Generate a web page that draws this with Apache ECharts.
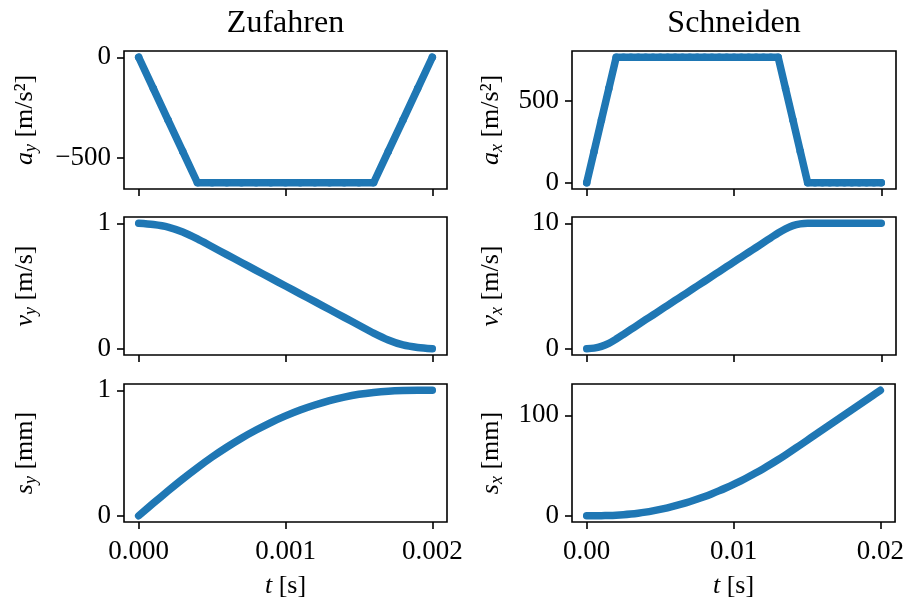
<!DOCTYPE html>
<html>
<head>
<meta charset="utf-8">
<script src="https://cdn.jsdelivr.net/npm/echarts@6/dist/echarts.min.js"></script>
<style>
html, body { margin: 0; padding: 0; background: #fff; }
#main { width: 907px; height: 604px; }
</style>
</head>
<body>
<div id="main"></div>
<script>
// Zufahren (links), Zeit in s
var tY = [0, 0.0001, 0.0002, 0.0003, 0.0004, 0.0005, 0.0006, 0.0007, 0.0008, 0.0009, 0.001,
          0.0011, 0.0012, 0.0013, 0.0014, 0.0015, 0.0016, 0.0017, 0.0018, 0.0019, 0.002];
var aY = [0, -156, -313, -469, -625, -625, -625, -625, -625, -625, -625,
          -625, -625, -625, -625, -625, -625, -469, -313, -156, 0];
var vY = [1, 0.99, 0.97, 0.93, 0.875, 0.8125, 0.75, 0.6875, 0.625, 0.5625, 0.5,
          0.4375, 0.375, 0.3125, 0.25, 0.1875, 0.125, 0.07, 0.03, 0.01, 0];
var sY = [0, 0.100, 0.198, 0.293, 0.383, 0.468, 0.546, 0.618, 0.683, 0.743, 0.796,
          0.843, 0.883, 0.918, 0.946, 0.968, 0.983, 0.993, 0.998, 1.000, 1.000];

// Schneiden (rechts), Zeit in s
var tX = [0, 0.0005, 0.001, 0.0015, 0.002, 0.0025, 0.003, 0.0035, 0.004, 0.0045, 0.005,
          0.0055, 0.006, 0.0065, 0.007, 0.0075, 0.008, 0.0085, 0.009, 0.0095, 0.01,
          0.0105, 0.011, 0.0115, 0.012, 0.0125, 0.013, 0.0135, 0.014, 0.0145, 0.015,
          0.0155, 0.016, 0.0165, 0.017, 0.0175, 0.018, 0.0185, 0.019, 0.0195, 0.02];
var aX = [0, 192, 385, 577, 769, 769, 769, 769, 769, 769, 769,
          769, 769, 769, 769, 769, 769, 769, 769, 769, 769,
          769, 769, 769, 769, 769, 769, 577, 385, 192, 0,
          0, 0, 0, 0, 0, 0, 0, 0, 0, 0];
var vX = [0, 0.05, 0.19, 0.43, 0.77, 1.15, 1.54, 1.92, 2.31, 2.69, 3.08,
          3.46, 3.85, 4.23, 4.61, 5.00, 5.38, 5.77, 6.15, 6.54, 6.92,
          7.31, 7.69, 8.07, 8.46, 8.84, 9.23, 9.56, 9.81, 9.95, 10,
          10, 10, 10, 10, 10, 10, 10, 10, 10, 10];
var sX = [0, 0.01, 0.06, 0.22, 0.51, 0.99, 1.67, 2.53, 3.59, 4.84, 6.28,
          7.91, 9.74, 11.76, 13.97, 16.37, 18.97, 21.76, 24.74, 27.91, 31.27,
          34.83, 38.58, 42.52, 46.65, 50.98, 55.50, 60.21, 65.04, 69.99, 74.98,
          79.98, 84.98, 89.98, 94.98, 99.98, 104.98, 109.98, 114.98, 119.98, 124.98];

// Achsenticks
var ticksTY = [0, 0.001, 0.002];
var ticksTX = [0, 0.01, 0.02];
var ticksAY = [-500, 0];
var ticksAX = [0, 500];
var ticksV1 = [0, 1];
var ticksV10 = [0, 10];
var ticksS1 = [0, 1];
var ticksS100 = [0, 100];

var titles = ['Zufahren', 'Schneiden'];

var FONT = 'Liberation Serif';
var BLUE = '#1f77b4';

// layout
var colLeft = [124, 572];
var colWidth = [323, 324];
var rowTop = [51, 217, 384];
var rowHeight = 138;
var nameGap = [84, 66];

function fmtNum(v) {
    return v < 0 ? '\u2212' + Math.abs(v) : String(v);
}

var panels = [
    { col: 0, row: 0, t: tY, v: aY, xr: [-0.0001, 0.0021], yr: [-656.25, 31.25], yt: ticksAY, xt: ticksTY, dec: 3, name: '{i|a}{s|y} [m/s\u00b2]' },
    { col: 0, row: 1, t: tY, v: vY, xr: [-0.0001, 0.0021], yr: [-0.05, 1.05], yt: ticksV1, xt: ticksTY, dec: 3, name: '{i|v}{s|y} [m/s]', smooth: true },
    { col: 0, row: 2, t: tY, v: sY, xr: [-0.0001, 0.0021], yr: [-0.05, 1.05], yt: ticksS1, xt: ticksTY, dec: 3, name: '{i|s}{s|y} [mm]', smooth: true },
    { col: 1, row: 0, t: tX, v: aX, xr: [-0.001, 0.021], yr: [-38.45, 807.45], yt: ticksAX, xt: ticksTX, dec: 2, name: '{i|a}{s|x} [m/s\u00b2]' },
    { col: 1, row: 1, t: tX, v: vX, xr: [-0.001, 0.021], yr: [-0.5, 10.5], yt: ticksV10, xt: ticksTX, dec: 2, name: '{i|v}{s|x} [m/s]', smooth: true },
    { col: 1, row: 2, t: tX, v: sX, xr: [-0.001, 0.021], yr: [-6.25, 131.25], yt: ticksS100, xt: ticksTX, dec: 2, name: '{i|s}{s|x} [mm]', smooth: true }
];

var grids = [], xAxes = [], yAxes = [], series = [];

panels.forEach(function (p, i) {
    grids.push({
        left: colLeft[p.col], top: rowTop[p.row], width: colWidth[p.col], height: rowHeight,
        show: true, borderColor: '#000', borderWidth: 1.6, backgroundColor: 'transparent'
    });
    var bottom = p.row === 2;
    xAxes.push({
        gridIndex: i, type: 'value', min: p.xr[0], max: p.xr[1],
        axisLine: { show: false, onZero: false },
        splitLine: { show: false },
        axisTick: { show: true, length: 7, customValues: p.xt, lineStyle: { color: '#000', width: 1.6 } },
        axisLabel: {
            show: bottom, customValues: p.xt, margin: 16,
            fontFamily: FONT, fontSize: 27, color: '#000',
            formatter: (function (d) { return function (v) { return v.toFixed(d); }; })(p.dec)
        },
        name: bottom ? '{i|t} [s]' : '',
        nameLocation: 'middle', nameGap: 51,
        nameTextStyle: {
            fontFamily: FONT, fontSize: 26, color: '#000',
            rich: { i: { fontFamily: FONT, fontSize: 26, fontStyle: 'italic', color: '#000' } }
        }
    });
    yAxes.push({
        gridIndex: i, type: 'value', min: p.yr[0], max: p.yr[1],
        axisLine: { show: false, onZero: false },
        splitLine: { show: false },
        axisTick: { show: true, length: 7, customValues: p.yt, lineStyle: { color: '#000', width: 1.6 } },
        axisLabel: {
            customValues: p.yt, margin: 13,
            fontFamily: FONT, fontSize: 27, color: '#000', formatter: fmtNum
        },
        name: p.name, nameLocation: 'middle', nameRotate: 90, nameGap: nameGap[p.col],
        nameTextStyle: {
            fontFamily: FONT, fontSize: 26, color: '#000', lineHeight: 30,
            rich: {
                i: { fontFamily: FONT, fontSize: 26, fontStyle: 'italic', color: '#000', lineHeight: 30 },
                s: { fontFamily: FONT, fontSize: 18, fontStyle: 'italic', color: '#000', verticalAlign: 'bottom' }
            }
        }
    });
    series.push({
        type: 'line', xAxisIndex: i, yAxisIndex: i,
        data: p.t.map(function (x, j) { return [x, p.v[j]]; }),
        smooth: p.smooth ? 0.3 : false,
        lineStyle: { color: BLUE, width: 7.5, cap: 'round', join: 'round' },
        symbol: p.smooth ? 'none' : 'circle', symbolSize: 7.5, showAllSymbol: true,
        itemStyle: { color: BLUE, borderWidth: 0 },
        clip: false
    });
});

var myChart = echarts.init(document.getElementById('main'));
myChart.setOption({
    backgroundColor: '#fff',
    animation: false,
    grid: grids,
    xAxis: xAxes,
    yAxis: yAxes,
    series: series,
    graphic: titles.map(function (txt, c) {
        return {
            type: 'text', x: colLeft[c] + colWidth[c] / 2, y: 8,
            style: { text: txt, fontFamily: FONT, fontSize: 32, fill: '#000', textAlign: 'center', textVerticalAlign: 'top' }
        };
    })
});
</script>
</body>
</html>
